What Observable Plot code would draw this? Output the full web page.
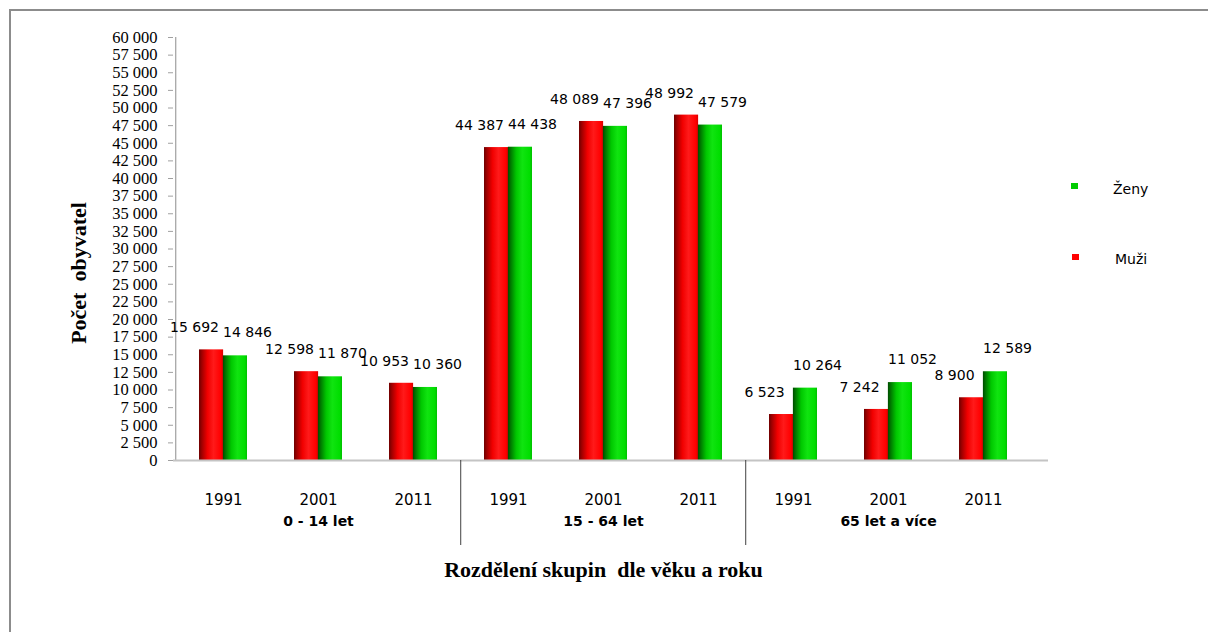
<!DOCTYPE html>
<html><head><meta charset="utf-8">
<script src="https://cdn.jsdelivr.net/npm/d3@7"></script>
<script src="https://cdn.jsdelivr.net/npm/@observablehq/plot@0.6"></script>
<style>
html,body{margin:0;padding:0;background:#fff;}
#wrap{position:relative;width:1208px;height:632px;overflow:hidden;background:#fff;}
#frame{position:absolute;left:9px;top:9px;width:1300px;height:700px;border-left:2px solid #8c8c8c;border-top:2px solid #8c8c8c;}
#chart{position:absolute;left:0;top:0;}
.leg{position:absolute;font-family:"DejaVu Sans";font-size:14px;line-height:16px;color:#000;}
.sw{position:absolute;width:7px;height:6px;}
</style></head><body>
<div id="wrap">
  <div id="frame"></div>
  <div id="chart"></div>
  <div id="legend"></div>
</div>
<script>
// ---- data ----
const groups = ["0 - 14 let", "15 - 64 let", "65 let a více"];
const years = ["1991", "2001", "2011"];
const muzi = [15692, 12598, 10953, 44387, 48089, 48992, 6523, 7242, 8900];
const zeny = [14846, 11870, 10360, 44438, 47396, 47579, 10264, 11052, 12589];
const yTicks = [0, 2500, 5000, 7500, 10000, 12500, 15000, 17500, 20000, 22500, 25000, 27500, 30000,
  32500, 35000, 37500, 40000, 42500, 45000, 47500, 50000, 52500, 55000, 57500, 60000];
const legendItems = ["Ženy", "Muži"];
const yTitle = "Počet\u00a0 obyvatel";
const xTitle = "Rozdělení skupin\u00a0 dle věku a roku";

// ---- table ----
const rows = [];
groups.forEach((g, gi) => years.forEach((y, yi) => {
  const i = gi * 3 + yi;
  rows.push({key: g + "|" + y, group: g, year: y, muzi: muzi[i], zeny: zeny[i]});
}));
const keys = rows.map(d => d.key);

const W = 1208, H = 632, ML = 173, MR = 175, MT = 37, MB = 172;
const step = (W - ML - MR) / keys.length;
const bw = step * 0.5;
const fmt = d => d3.format(",")(d).replace(/,/g, " ");

const svg = Plot.plot({
  width: W, height: H,
  marginLeft: ML, marginRight: MR, marginTop: MT, marginBottom: MB,
  style: {fontFamily: "DejaVu Sans", fontSize: "13px", color: "#000", background: "transparent", overflow: "visible"},
  x: {domain: keys, paddingInner: 0.5, paddingOuter: 0.25, axis: null},
  y: {domain: [0, 60000], axis: null},
  marks: [
    // y axis line
    Plot.ruleX([keys[0]], {x: d => d, dx: -step / 2, stroke: "#a0a0a0", strokeWidth: 1.2}),
    Plot.axisY(yTicks, {
      tickSize: 5, tickPadding: 11, stroke: "#a0a0a0", fill: "#000",
      fontFamily: "Liberation Serif", fontSize: 16.5, tickFormat: fmt, label: null
    }),
    // bars
    Plot.barY(rows, {x: "key", y: "muzi", fill: "url(#gRed)", insetRight: bw / 2}),
    Plot.barY(rows, {x: "key", y: "zeny", fill: "url(#gGreen)", insetLeft: bw / 2}),
    // baseline
    Plot.ruleY([0], {stroke: "#c4c4c4", strokeWidth: 1.8, insetRight: -15}),
    // group separators
    Plot.ruleX([keys[3], keys[6]], {x: d => d, dx: -step / 2, y1: 0, y2: 0, insetBottom: -85, stroke: "#404040", strokeWidth: 1}),
    // data labels
    Plot.text(rows, {x: "key", y: "muzi", text: d => fmt(d.muzi), dx: -29, dy: -22, fontSize: 14, fill: "#000"}),
    Plot.text(rows, {x: "key", y: "zeny", text: d => fmt(d.zeny), dx: 24, dy: -23, fontSize: 14, fill: "#000"}),
    // year labels
    Plot.axisX({tickSize: 0, tickPadding: 34, tickFormat: d => d.split("|")[1], fontSize: 15, fill: "#000", label: null}),
    // group labels
    Plot.text(groups, {x: g => g + "|" + years[1], y: 0, dy: 61, text: d => d, fontSize: 14, fontWeight: "bold", fill: "#000"}),
    // axis titles
    Plot.text([yTitle], {frameAnchor: "left", rotate: -90, textAnchor: "middle", dx: -95, dy: 24, text: d => d,
      fontFamily: "Liberation Serif", fontWeight: "bold", fontSize: 22, fill: "#000"}),
    Plot.text([xTitle], {frameAnchor: "bottom", textAnchor: "middle", dy: 116, text: d => d,
      fontFamily: "Liberation Serif", fontWeight: "bold", fontSize: 22, fill: "#000"})
  ]
});

// gradients for cylinder-like bars
const defs = d3.select(svg).insert("defs", ":first-child");
function grad(id, stops) {
  const g = defs.append("linearGradient").attr("id", id).attr("x1", 0).attr("x2", 1).attr("y1", 0).attr("y2", 0);
  stops.forEach(([o, c]) => g.append("stop").attr("offset", o).attr("stop-color", c));
}
grad("gRed", [[0, "#6e0000"], [0.12, "#a00000"], [0.35, "#f00000"], [0.6, "#ff1a1a"], [0.9, "#ff0000"], [1, "#d80000"]]);
grad("gGreen", [[0, "#004a00"], [0.12, "#007a00"], [0.35, "#00c800"], [0.6, "#10e410"], [0.9, "#00de00"], [1, "#00c000"]]);

document.getElementById("chart").appendChild(svg);

// legend
const legendColors = {"Ženy": "#00cc00", "Muži": "#ff0000"};
const legendPos = {"Ženy": [1071, 183, 1113, 181], "Muži": [1072, 254, 1115, 251]};
const leg = document.getElementById("legend");
legendItems.forEach(name => {
  const [sx, sy, tx, ty] = legendPos[name];
  const sw = document.createElement("div");
  sw.className = "sw";
  sw.style.left = sx + "px"; sw.style.top = sy + "px"; sw.style.background = legendColors[name];
  leg.appendChild(sw);
  const t = document.createElement("div");
  t.className = "leg";
  t.style.left = tx + "px"; t.style.top = ty + "px";
  t.textContent = name;
  leg.appendChild(t);
});
</script>
</body></html>
